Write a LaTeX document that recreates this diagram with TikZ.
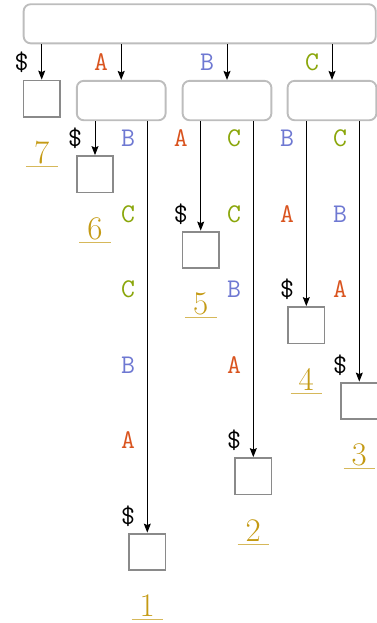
\documentclass[tikz,border=0pt]{standalone}
\usetikzlibrary{arrows.meta}
\definecolor{cA}{HTML}{D9531E}
\definecolor{cB}{HTML}{6E78D2}
\definecolor{cC}{HTML}{8AA60A}
\definecolor{cN}{HTML}{C49A14}
\definecolor{cU}{HTML}{D6B85A}
\definecolor{inbord}{HTML}{BDBDBD}
\definecolor{lfbord}{HTML}{8A8A8A}
\begin{document}
\begin{tikzpicture}[x=1pt,y=-1pt,
  rootbox/.style={draw=inbord, line width=1.9pt, rounded corners=7pt, minimum width=352.1pt, minimum height=39.1pt, inner sep=0pt},
  inode/.style={draw=inbord, line width=1.9pt, rounded corners=7pt, minimum width=88.8pt, minimum height=39.4pt, inner sep=0pt, anchor=north},
  leaf/.style={draw=lfbord, line width=1.9pt, minimum size=36.4pt, inner sep=0pt, anchor=north},
  arr/.style={-{Stealth[length=9pt,width=7pt,inset=1.5pt]}, line width=0.9pt},
  lt/.style={font=\fontsize{27}{27}\selectfont\ttfamily, inner sep=0pt, anchor=base},
  la/.style={lt, text=cA},
  lb/.style={lt, text=cB},
  lc/.style={lt, text=cC},
  ld/.style={lt, text=black},
  num/.style={font=\fontsize{33}{33}\selectfont, text=cN, inner sep=0pt, anchor=base},
  ul/.style={draw=cU, line width=1.3pt}
]
\useasboundingbox (0,0) rectangle (377,623);

% tree nodes
\node[rootbox] (root) at (199.7,23.8) {};
\node[leaf] (L7) at (41.7,79.6) {};
\node[inode] (NA) at (121.2,79.9) {};
\node[inode] (NB) at (227,79.9) {};
\node[inode] (NC) at (332,79.9) {};
\node[leaf] (L6) at (95,155.1) {};
\node[leaf] (L1) at (147.3,532.6) {};
\node[leaf] (L5) at (200.7,230.6) {};
\node[leaf] (L2) at (253.3,457.1) {};
\node[leaf] (L4) at (306.3,306.1) {};
\node[leaf] (L3) at (359.3,381.6) {};

% edges
\draw[arr] (root.south -| L7.north) -- (L7.north);
\draw[arr] (root.south -| NA.north) -- (NA.north);
\draw[arr] (root.south -| NB.north) -- (NB.north);
\draw[arr] (root.south -| NC.north) -- (NC.north);
\draw[arr] (NA.south -| L6.north) -- (L6.north);
\draw[arr] (NA.south -| L1.north) -- (L1.north);
\draw[arr] (NB.south -| L5.north) -- (L5.north);
\draw[arr] (NB.south -| L2.north) -- (L2.north);
\draw[arr] (NC.south -| L4.north) -- (L4.north);
\draw[arr] (NC.south -| L3.north) -- (L3.north);

% edge labels, root level
\node[ld] (t1) at (21.7,71) {\$};
\node[la] (t2) at (101.2,71) {A};
\node[lb] (t3) at (207,71) {B};
\node[lc] (t4) at (312,71) {C};
% below A
\node[ld] (t5) at (75,146.5) {\$};
\node[lb] (t6) at (128,146.5) {B};
\node[lc] (t7) at (128,222) {C};
\node[lc] (t8) at (128,297.5) {C};
\node[lb] (t9) at (128,373) {B};
\node[la] (t10) at (128,448.5) {A};
\node[ld] (t11) at (128,524) {\$};
% below B
\node[la] (t12) at (180.7,146.5) {A};
\node[ld] (t13) at (180.7,222) {\$};
\node[lc] (t14) at (234,146.5) {C};
\node[lc] (t15) at (234,222) {C};
\node[lb] (t16) at (234,297.5) {B};
\node[la] (t17) at (234,373) {A};
\node[ld] (t18) at (234,448.5) {\$};
% below C
\node[lb] (t19) at (287,146.5) {B};
\node[la] (t20) at (287,222) {A};
\node[ld] (t21) at (287,297.5) {\$};
\node[lc] (t22) at (340,146.5) {C};
\node[lb] (t23) at (340,222) {B};
\node[la] (t24) at (340,297.5) {A};
\node[ld] (t25) at (340,373) {\$};

% leaf numbers
\node[num] (n7) at (41.7,163.7) {7};
\node[num] (n6) at (95,239.2) {6};
\node[num] (n5) at (200.7,314.7) {5};
\node[num] (n4) at (306.3,390.2) {4};
\node[num] (n3) at (359.3,465.7) {3};
\node[num] (n2) at (253.3,541.2) {2};
\node[num] (n1) at (147.3,616.7) {1};
\foreach \n in {n1,n2,n3,n4,n5,n6,n7}
  \draw[ul] (\n.base) +(-15.8,3) -- +(15.8,3);
\end{tikzpicture}
\end{document}
